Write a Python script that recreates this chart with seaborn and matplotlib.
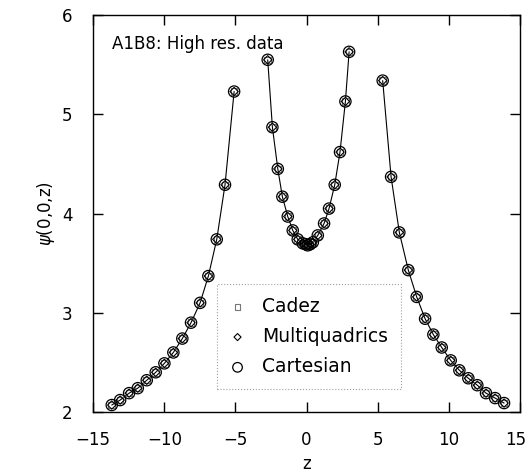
import numpy as np
import pandas as pd
import matplotlib
matplotlib.use("Agg")
import matplotlib.pyplot as plt
import matplotlib.transforms as mtransforms
import seaborn as sns

# data: three branches separated at the punctures
z_left = [-13.69, -13.10, -12.47, -11.86, -11.23, -10.60, -9.99, -9.36,
          -8.73, -8.12, -7.48, -6.90, -6.31, -5.73, -5.09]
psi_left = [2.07, 2.12, 2.19, 2.24, 2.32, 2.40, 2.49, 2.60,
            2.74, 2.90, 3.10, 3.37, 3.74, 4.29, 5.23]

z_mid = [-2.73, -2.40, -2.02, -1.70, -1.32, -0.97, -0.62, -0.27, -0.05,
         0.08, 0.25, 0.44, 0.79, 1.23, 1.58, 1.98, 2.35, 2.73, 2.99]
psi_mid = [5.55, 4.87, 4.45, 4.17, 3.97, 3.83, 3.74, 3.70, 3.69,
           3.68, 3.69, 3.71, 3.78, 3.90, 4.05, 4.29, 4.62, 5.13, 5.63]

z_right = [5.35, 5.94, 6.52, 7.15, 7.74, 8.33, 8.91, 9.50,
           10.13, 10.74, 11.37, 12.00, 12.61, 13.25, 13.88]
psi_right = [5.34, 4.37, 3.81, 3.43, 3.16, 2.94, 2.78, 2.65,
             2.52, 2.42, 2.34, 2.27, 2.19, 2.14, 2.09]

methods = ["Cadez", "Multiquadrics", "Cartesian"]

# build a table
frames = []
for name, zz, pp in [("left", z_left, psi_left), ("mid", z_mid, psi_mid),
                     ("right", z_right, psi_right)]:
    frames.append(pd.DataFrame({"z": zz, "psi": pp, "branch": name}))
df = pd.concat(frames, ignore_index=True)

sns.set_style("ticks")
plt.rcParams["font.family"] = ["DejaVu Sans"]
plt.rcParams["text.color"] = "black"
plt.rcParams["axes.labelcolor"] = "black"
plt.rcParams["xtick.color"] = "black"
plt.rcParams["ytick.color"] = "black"
plt.rcParams["axes.edgecolor"] = "black"
plt.rcParams["mathtext.fontset"] = "dejavusans"

fig = plt.figure(figsize=(5.29, 4.73), dpi=100)
ax = fig.add_axes([0.176, 0.129, 0.807, 0.839])

# solid line through each branch
sns.lineplot(data=df, x="z", y="psi", units="branch", estimator=None,
             color="black", lw=0.8, ax=ax, legend=False, sort=False)

# markers for the three methods (they sit on top of each other)
sns.scatterplot(data=df, x="z", y="psi", marker="s", s=22, facecolor="none",
                edgecolor="#777777", linewidth=0.8, ax=ax, label=methods[0],
                zorder=3)
sns.scatterplot(data=df, x="z", y="psi", marker="D", s=18, facecolor="none",
                edgecolor="black", linewidth=0.8, ax=ax, label=methods[1],
                zorder=4)
sns.scatterplot(data=df, x="z", y="psi", marker="o", s=66, facecolor="none",
                edgecolor="black", linewidth=0.9, ax=ax, label=methods[2],
                zorder=5)

ax.set_xlim(-15, 15)
ax.set_ylim(2, 6)
ax.set_xticks([-15, -10, -5, 0, 5, 10, 15])
ax.set_yticks([2, 3, 4, 5, 6])
ax.tick_params(direction="in", length=7, width=1, top=True, right=True,
               labelsize=12)
ax.tick_params(axis="x", pad=14)
ax.tick_params(axis="y", pad=15)
for sp in ax.spines.values():
    sp.set_linewidth(1.0)
    sp.set_visible(True)

# last x tick label sits right at the figure edge; nudge it inside
last = ax.get_xticklabels()[-1]
last.set_transform(last.get_transform() +
                   mtransforms.ScaledTranslation(-4 / 100, 0, fig.dpi_scale_trans))

ax.set_xlabel("z", fontsize=12, labelpad=4)
ax.set_ylabel(r"$\psi$(0,0,z)", fontsize=12, labelpad=3)

ax.text(0.044, 0.95, "A1B8: High res. data", transform=ax.transAxes,
        fontsize=12, ha="left", va="top")

leg = ax.legend(loc="lower left", bbox_to_anchor=(0.29, 0.057), fontsize=13.5,
                frameon=True, fancybox=False, labelspacing=0.6,
                handletextpad=0.9, borderpad=0.7, borderaxespad=0,
                markerscale=0.85, handlelength=0.8)
frame = leg.get_frame()
frame.set_linestyle(":")
frame.set_edgecolor("#888888")
frame.set_linewidth(0.8)

fig.savefig("out.png", dpi=100)
